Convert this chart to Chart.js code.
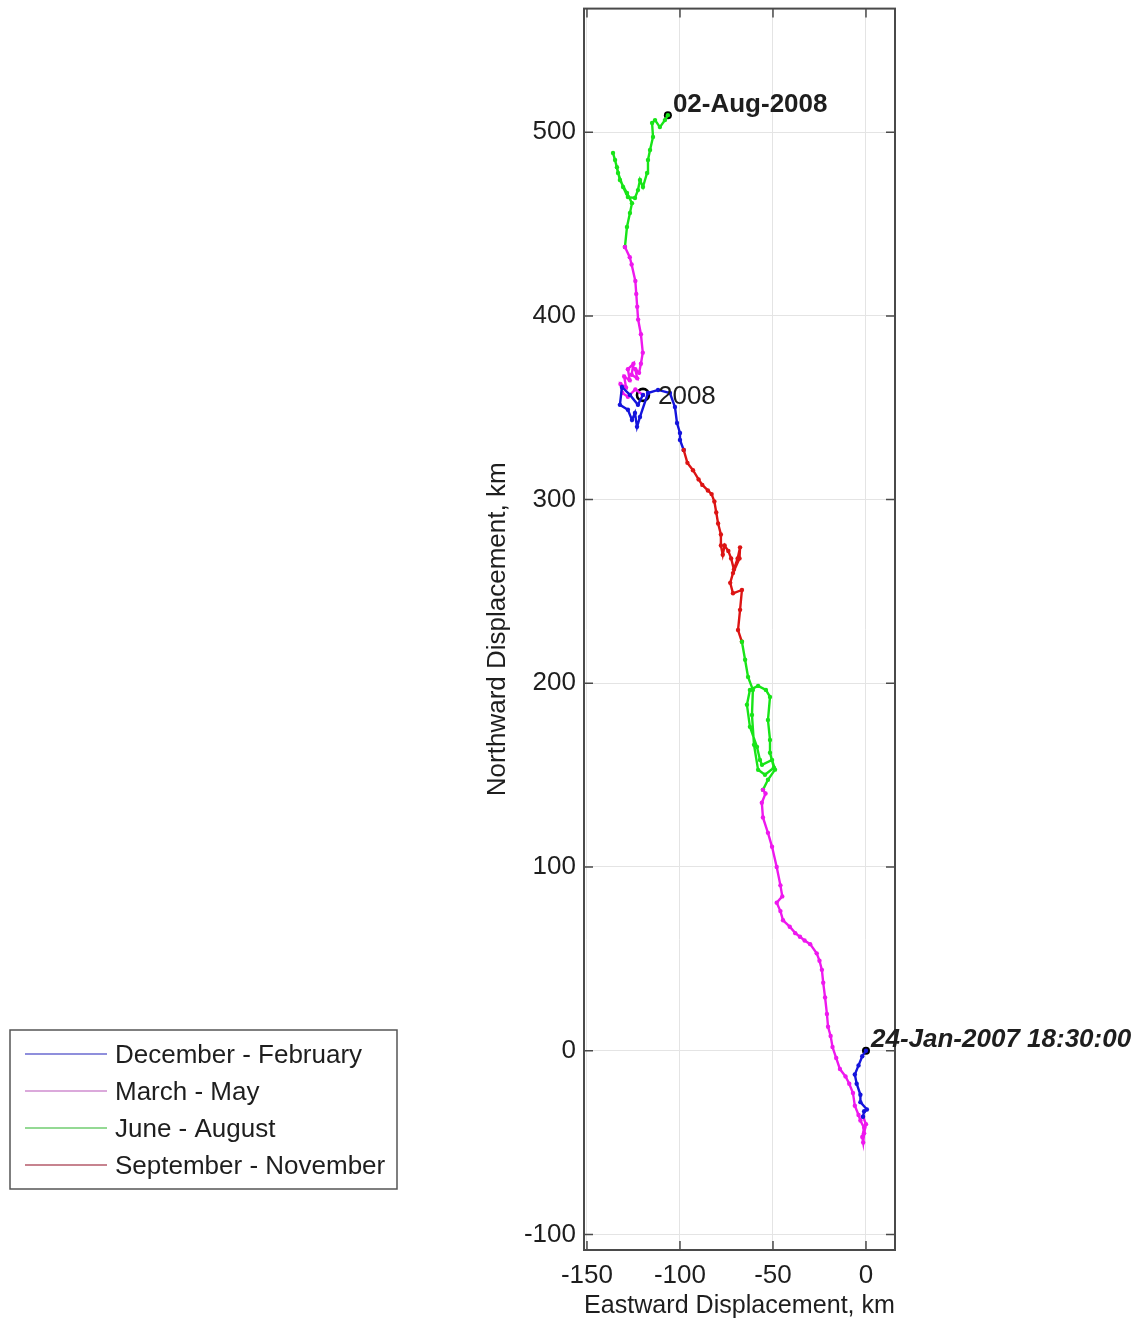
<!DOCTYPE html>
<html><head><meta charset="utf-8">
<script src="https://cdn.jsdelivr.net/npm/chart.js@4.4.1/dist/chart.umd.min.js"></script>
<style>html,body{margin:0;padding:0;background:#fff}canvas{display:block}</style>
</head><body>
<canvas id="c" width="1142" height="1324" style="width:1142px;height:1324px"></canvas>
<script>
// ---- labels / ticks ----
const seasonLabels = ['December - February', 'March - May', 'June - August', 'September - November'];
const seasonColors = ['#1414dc', '#ee18ee', '#18e418', '#dc1414'];
const legendColors = ['#6a6ad0', '#cf8ccf', '#70cc70', '#b45a6a'];
const xTicks = [-150, -100, -50, 0];
const yTicks = [-100, 0, 100, 200, 300, 400, 500];
const xRange = [-151.6, 15.6];
const yRange = [-108.5, 567.3];

// ---- trajectory segments [east km, north km] in time order ----
const djf2007 = [[0,0],[-2,-3],[-4,-8],[-6,-13],[-5,-18],[-3,-24],[-3,-28],[0.5,-32],[-1,-33],[-1.6,-36]];
const mam2007 = [[-1.6,-36],[0,-40],[-1,-45],[-1.5,-50],[-2,-47],[-1,-42],[-3,-38],[-4,-35],[-6,-30],[-7,-23],[-9,-18],[-11,-14],[-14,-10],[-16,-4],[-18,2],[-19,8],[-20.4,13],[-21,20],[-22,29],[-23,37],[-23.7,44],[-25,49],[-26.5,53],[-30,58],[-33,60],[-35.5,62],[-38,64],[-41,67.5],[-44.6,71],[-46,76],[-48,80.6],[-45,84],[-46,90],[-48,100],[-50.5,111],[-52.7,118.6],[-55.4,127],[-56,135],[-54,140],[-55.4,142]];
const jja2007 = [[-55.4,142],[-52.7,147.5],[-48.9,153],[-50.5,158.3],[-55.9,155.6],[-57,158.3],[-58.6,165.4],[-62.4,176.3],[-64,188.3],[-62.4,196.4],[-58,198.6],[-53.8,196.4],[-51.6,192.6],[-52.7,180],[-51.6,169.2],[-51.6,162.2],[-49.5,154],[-54.3,150.2],[-58,152.9],[-60.2,166.5],[-61.3,182.8],[-60.8,196.4],[-63.4,203.5],[-65,212.8],[-66.7,222.6]];
const son2007 = [[-66.7,222.6],[-68.8,229],[-67.7,240],[-66.7,250.8],[-71.5,249],[-73,254.7],[-71.5,260],[-68,268],[-67.7,274],[-69,268],[-71,262],[-72.5,268],[-74,272],[-76,275],[-77,270],[-78,275],[-78,281],[-79.5,287],[-80.5,293],[-81.5,299],[-83,303],[-85,305],[-88,308],[-90,311],[-93,316],[-96,320],[-98,327]];
const djf2008 = [[-98,327],[-100,332.5],[-100,336.3],[-101.6,341.7],[-102.7,350.4],[-105.4,358],[-111.8,359.7],[-117.2,358],[-121.5,345],[-123.1,339.6],[-124.2,347.2],[-125.8,343.4],[-128,348.9],[-132.3,351.6],[-131.2,361.3],[-126.9,357],[-122.6,351.6],[-119.9,357]];
const mam2008 = [[-119.9,357],[-124,360],[-128,356],[-131,358],[-132,363],[-129,361],[-130,367],[-127,365],[-128,371],[-125,374],[-126,368],[-123,366],[-124,371],[-122,369],[-121,374],[-120,380],[-121,390],[-122.5,398],[-123,405],[-123.5,412],[-124,419],[-126,428],[-127,432],[-129.6,437.5]];
const jja2008 = [[-129.6,437.5],[-128.5,448.4],[-126.9,456],[-125.8,461.4],[-128.5,466.9],[-132.3,474],[-133.9,481],[-136,488.7],[-134.9,484.9],[-133.3,477.8],[-130.6,470.2],[-128,464.7],[-124.2,464.2],[-122.6,468.5],[-121.5,474],[-119.9,470.2],[-117.7,477.8],[-117.2,484.9],[-116.1,490.3],[-114.5,497.4],[-115,505],[-113.4,506.6],[-110.8,502.8],[-108.1,506.6],[-106.5,509.3]];

const startPoint = [0, 0];
const startLabel = '24-Jan-2007 18:30:00';
const endPoint = [-106.5, 509.3];
const endLabel = '02-Aug-2008';
const markPoint = [-119.9, 357];
const markLabel = '2008';

const segments = [
  {season: 0, pts: djf2007}, {season: 1, pts: mam2007}, {season: 2, pts: jja2007},
  {season: 3, pts: son2007}, {season: 0, pts: djf2008}, {season: 1, pts: mam2008},
  {season: 2, pts: jja2008}
];

const FONT = '"Liberation Sans", Arial, sans-serif';
const FS = 26;
const TXT = '#1e1e1e';

const datasets = segments.map(s => ({
  label: seasonLabels[s.season],
  data: s.pts.map(p => ({x: p[0], y: p[1]})),
  showLine: true,
  borderColor: seasonColors[s.season],
  backgroundColor: seasonColors[s.season],
  borderWidth: 2.4,
  pointRadius: 2.2,
  pointBorderWidth: 0,
  pointHoverRadius: 0,
  tension: 0
}));
datasets.push({
  label: 'endpoints', data: [startPoint, endPoint].map(p => ({x: p[0], y: p[1]})),
  showLine: false, pointRadius: 4, pointBackgroundColor: '#000', pointBorderColor: '#000', pointBorderWidth: 0
});
datasets.push({
  label: 'mark', data: [{x: markPoint[0], y: markPoint[1]}],
  showLine: false, pointRadius: 6, pointBackgroundColor: 'rgba(0,0,0,0)', pointBorderColor: '#000', pointBorderWidth: 2.6
});

const bgPlugin = {
  id: 'bg',
  beforeDraw(chart) {
    const c = chart.ctx; c.save(); c.fillStyle = '#fff'; c.fillRect(0, 0, chart.width, chart.height); c.restore();
  }
};

const framePlugin = {
  id: 'frame',
  afterDatasetsDraw(chart) {
    const c = chart.ctx, a = chart.chartArea, xs = chart.scales.x, ys = chart.scales.y;
    c.save();
    c.strokeStyle = '#4a4a4a'; c.lineWidth = 2;
    c.strokeRect(a.left, a.top, a.right - a.left, a.bottom - a.top);
    c.lineWidth = 1.5;
    const L = 9;
    c.beginPath();
    xTicks.forEach(v => {
      const px = xs.getPixelForValue(v);
      c.moveTo(px, a.bottom); c.lineTo(px, a.bottom - L);
      c.moveTo(px, a.top); c.lineTo(px, a.top + L);
    });
    yTicks.forEach(v => {
      const py = ys.getPixelForValue(v);
      c.moveTo(a.left, py); c.lineTo(a.left + L, py);
      c.moveTo(a.right, py); c.lineTo(a.right - L, py);
    });
    c.stroke();
    c.restore();
  }
};

const labelPlugin = {
  id: 'labels',
  afterDraw(chart) {
    const c = chart.ctx, xs = chart.scales.x, ys = chart.scales.y;
    c.save();
    c.fillStyle = TXT;
    c.textAlign = 'left';
    c.textBaseline = 'alphabetic';
    c.font = 'bold ' + FS + 'px ' + FONT;
    c.fillText(endLabel, xs.getPixelForValue(endPoint[0]) + 5, ys.getPixelForValue(endPoint[1]) - 3);
    c.font = 'italic bold ' + FS + 'px ' + FONT;
    c.fillText(startLabel, xs.getPixelForValue(startPoint[0]) + 5, ys.getPixelForValue(startPoint[1]) - 4);
    c.font = FS + 'px ' + FONT;
    c.textBaseline = 'middle';
    c.fillText(markLabel, xs.getPixelForValue(markPoint[0]) + 15, ys.getPixelForValue(markPoint[1]) + 2);

    // legend box
    const bx = 10, by = 1030, bw = 387, bh = 159;
    c.fillStyle = '#fff';
    c.fillRect(bx, by, bw, bh);
    c.strokeStyle = '#555'; c.lineWidth = 1.5;
    c.strokeRect(bx, by, bw, bh);
    c.font = FS + 'px ' + FONT;
    c.textBaseline = 'middle';
    seasonLabels.forEach((lab, i) => {
      const y = 1054 + i * 37;
      c.strokeStyle = legendColors[i]; c.lineWidth = 1.6;
      c.beginPath(); c.moveTo(25, y); c.lineTo(107, y); c.stroke();
      c.fillStyle = TXT;
      c.fillText(lab, 115, y + 2);
    });
    c.restore();
  }
};

const noPad = s => { s.paddingTop = 0; s.paddingBottom = 0; s.paddingLeft = 0; s.paddingRight = 0; };

new Chart(document.getElementById('c'), {
  type: 'scatter',
  data: {datasets},
  options: {
    responsive: false,
    animation: false,
    events: [],
    layout: {padding: {left: 478, right: 247, top: 8, bottom: 0}},
    plugins: {legend: {display: false}, tooltip: {enabled: false}},
    scales: {
      x: {
        type: 'linear', min: xRange[0], max: xRange[1],
        afterBuildTicks: s => { s.ticks = xTicks.map(v => ({value: v})); },
        afterFit: s => { s.height = 74; noPad(s); },
        grid: {color: '#e4e4e4', lineWidth: 1, drawTicks: false},
        border: {display: false},
        ticks: {padding: 10, color: TXT, font: {family: FONT, size: FS}, maxRotation: 0, autoSkip: false},
        title: {display: true, text: 'Eastward Displacement, km', color: TXT, font: {family: FONT, size: FS}, padding: {top: 0, bottom: 2.5}}
      },
      y: {
        type: 'linear', min: yRange[0], max: yRange[1],
        afterBuildTicks: s => { s.ticks = yTicks.map(v => ({value: v})); },
        afterFit: s => { s.width = 106; noPad(s); },
        grid: {color: '#e4e4e4', lineWidth: 1, drawTicks: false},
        border: {display: false},
        ticks: {padding: 8, color: TXT, font: {family: FONT, size: FS}, autoSkip: false},
        title: {display: true, text: 'Northward Displacement, km', color: TXT, font: {family: FONT, size: FS}, padding: {top: 4, bottom: 0}}
      }
    }
  },
  plugins: [bgPlugin, framePlugin, labelPlugin]
});
</script>
</body></html>
